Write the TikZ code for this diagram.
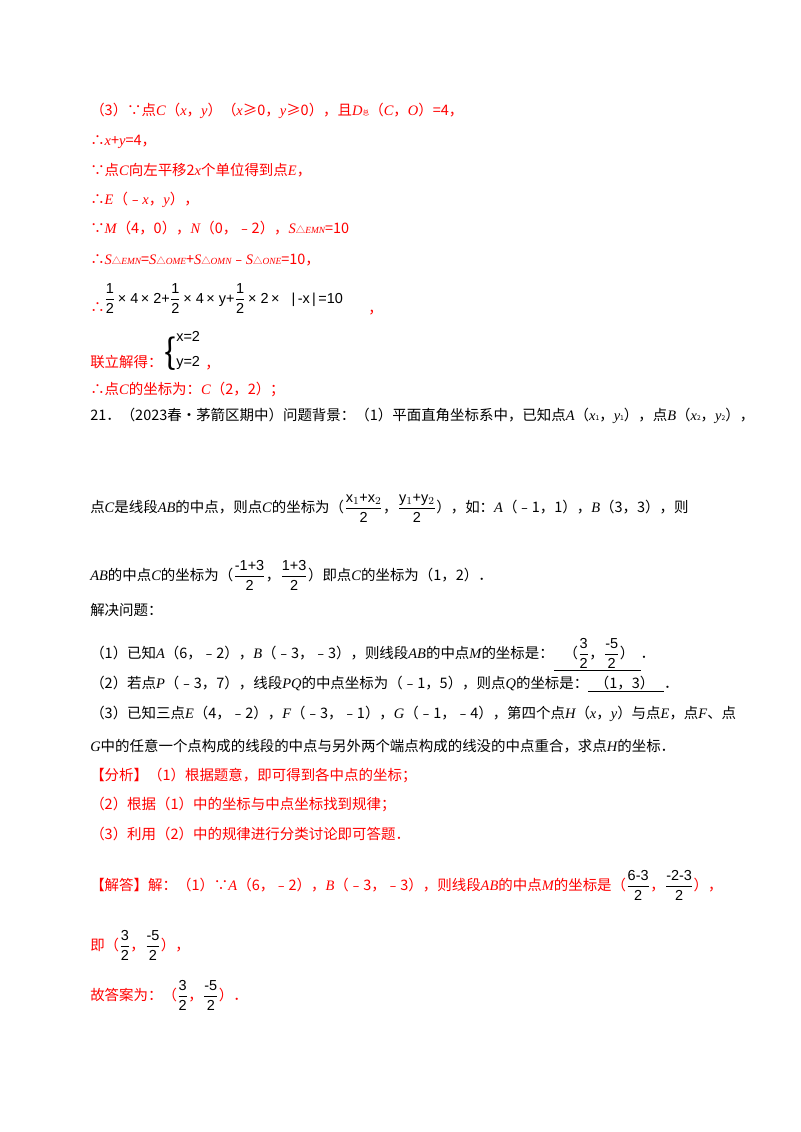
\documentclass[tikz,border=0pt]{standalone}
\usepackage{fontspec}
\setmainfont{Noto Sans CJK SC}
\newfontfamily\lat{Liberation Serif}
\newfontfamily\mth{Liberation Sans}
\newcommand\iv[1]{{\lat\itshape #1}}
\newcommand\frc[2]{\setbox0\hbox{$\displaystyle\frac{\hbox{\mth #1}}{\hbox{\mth #2}}$}\raisebox{\dp0}{\box0}}
\newcommand\mfr[2]{$\displaystyle\frac{\hbox{\mth #1}}{\hbox{\mth #2}}$}
\definecolor{rd}{RGB}{255,0,0}
\begin{document}
\begin{tikzpicture}[x=0.02625cm,y=-0.02625cm,
  t/.style={anchor=base west,inner sep=0,font=\fontsize{10.8}{12}\selectfont},
  r/.style={t,text=rd}]
\useasboundingbox (0,0) rectangle (800,1132);
\fill[white] (0,0) rectangle (800,1132);
\node[r] (l1) at (90,115) {（3）∵点\iv{C}（\iv{x}，\iv{y}）（\iv{x}≥0，\iv{y}≥0），且\iv{D}{\tiny 总}（\iv{C}，\iv{O}）=4，};
\node[r] (l2) at (90,145) {∴\iv{x}+\iv{y}=4，};
\node[r] (l3) at (90,175) {∵点\iv{C}向左平移2\iv{x}个单位得到点\iv{E}，};
\node[r] (l4) at (90,204) {∴\iv{E}（﹣\iv{x}，\iv{y}），};
\node[r] (l5) at (90,233) {∵\iv{M}（4，0），\iv{N}（0，﹣2），\iv{S}{\scriptsize △\iv{EMN}}=10};
\node[r] (l6) at (90,264) {∴\iv{S}{\scriptsize △\iv{EMN}}=\iv{S}{\scriptsize △\iv{OME}}+\iv{S}{\scriptsize △\iv{OMN}}﹣\iv{S}{\scriptsize △\iv{ONE}}=10，};
\node[r] (l7a) at (90,312) {∴};
\node[t] (l7) at (104,303) {\mth \mfr{1}{2}\,× 4\,× 2+\mfr{1}{2}\,× 4\,× y+\mfr{1}{2}\,× 2\,× \ \ |\,-x\,|\,=10};
\node[r] (l7b) at (368,313) {，};
\node[r] (l8) at (90,367) {联立解得：};
\node[t,font=\fontsize{26}{26}\selectfont] (br) at (164,364) {\{};
\node[t] (s1) at (176,341) {\mth x=2};
\node[t] (s2) at (176,366) {\mth y=2};
\node[r] (s3) at (205,368) {，};
\node[r] (l9) at (90,394) {∴点\iv{C}的坐标为：\iv{C}（2，2）；};
\node[t] (q1) at (90,420) {21．（2023春•茅箭区期中）问题背景：（1）平面直角坐标系中，已知点\iv{A}（\iv{x}{\tiny 1}，\iv{y}{\tiny 1}），点\iv{B}（\iv{x}{\tiny 2}，\iv{y}{\tiny 2}），};
\node[t] (q2) at (90,512) {点\iv{C}是线段\iv{AB}的中点，则点\iv{C}的坐标为（\frc{x$_1$+x$_2$}{2}，\frc{y$_1$+y$_2$}{2}），如：\iv{A}（﹣1，1），\iv{B}（3，3），则};
\node[t] (q3) at (90,580) {\iv{AB}的中点\iv{C}的坐标为（\frc{-1+3}{2}，\frc{1+3}{2}）即点\iv{C}的坐标为（1，2）．};
\node[t] (q4) at (90,615) {解决问题：};
\node[t] (q5) at (90,658) {（1）已知\iv{A}（6，﹣2），\iv{B}（﹣3，﹣3），则线段\iv{AB}的中点\iv{M}的坐标是：\underline{\ \ \ （\frc{3}{2}，\frc{-5}{2}）\ \ }．};
\node[t] (q6) at (90,688) {（2）若点\iv{P}（﹣3，7），线段\iv{PQ}的中点坐标为（﹣1，5），则点\iv{Q}的坐标是：\underline{\ \ （1，3）\ \ \ }．};
\node[t] (q7) at (90,718) {（3）已知三点\iv{E}（4，﹣2），\iv{F}（﹣3，﹣1），\iv{G}（﹣1，﹣4），第四个点\iv{H}（\iv{x}，\iv{y}）与点\iv{E}，点\iv{F}、点};
\node[t] (q8) at (90,751) {\iv{G}中的任意一个点构成的线段的中点与另外两个端点构成的线没的中点重合，求点\iv{H}的坐标．};
\node[r] (a1) at (90,780) {【分析】（1）根据题意，即可得到各中点的坐标；};
\node[r] (a2) at (90,809) {（2）根据（1）中的坐标与中点坐标找到规律；};
\node[r] (a3) at (90,839) {（3）利用（2）中的规律进行分类讨论即可答题．};
\node[r] (b1) at (90,890) {【解答】解：（1）∵\iv{A}（6，﹣2），\iv{B}（﹣3，﹣3），则线段\iv{AB}的中点\iv{M}的坐标是（\textcolor{black}{\frc{6-3}{2}}，\textcolor{black}{\frc{-2-3}{2}}），};
\node[r] (b2) at (90,950) {即（\textcolor{black}{\frc{3}{2}}，\textcolor{black}{\frc{-5}{2}}），};
\node[r] (b3) at (90,1000) {故答案为：（\textcolor{black}{\frc{3}{2}}，\textcolor{black}{\frc{-5}{2}}）．};
\end{tikzpicture}
\end{document}
